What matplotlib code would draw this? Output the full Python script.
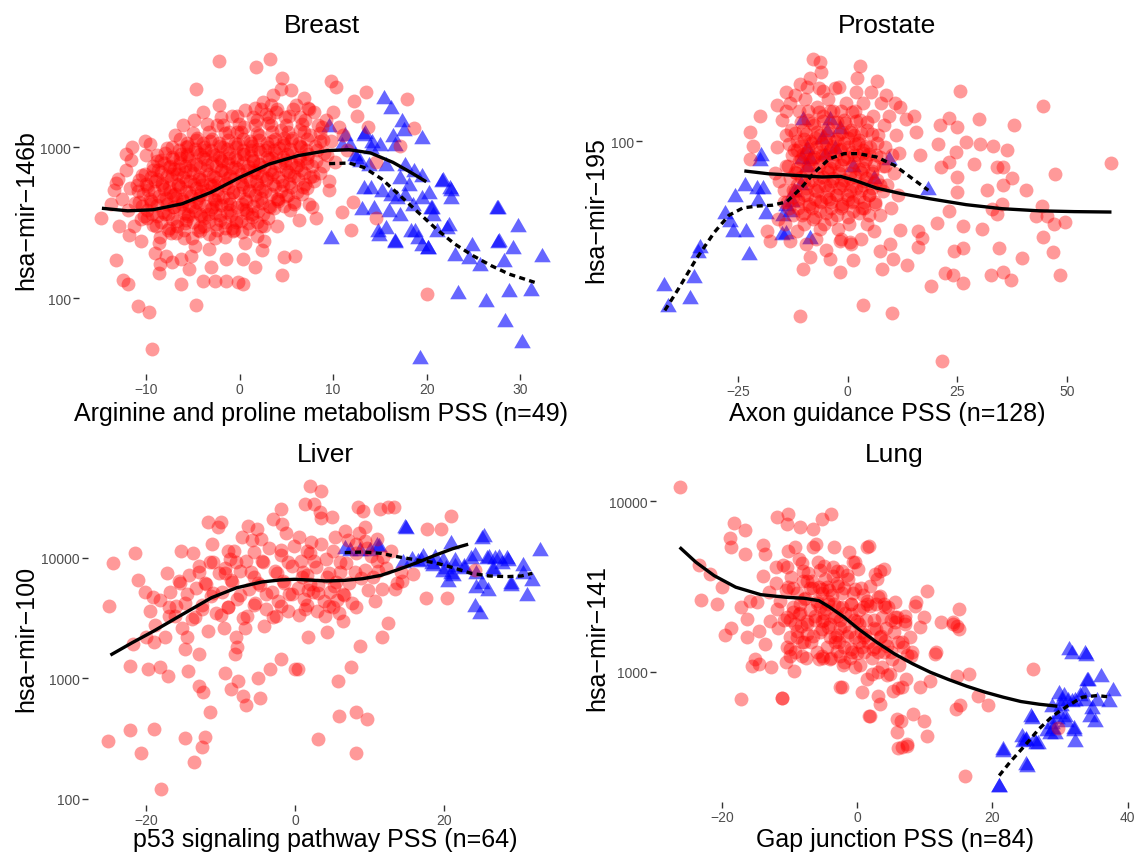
import matplotlib
matplotlib.use("Agg")
import matplotlib.pyplot as plt

plt.rcParams['font.family'] = ['Liberation Sans', 'DejaVu Sans']

W, H = 1135, 853

# ---------------- Breast ----------------
breast_red = [
    (-14.8, 339), (-13.2, 178), (-12.5, 132), (-12.0, 123), (-10.9, 88), (-9.7, 81), (-9.4, 46),
    (-4.7, 90), (-2.2, 3720), (1.7, 3400), (3.2, 3830), (-4.7, 2420), (4.5, 2860), (4.4, 2420),
    (9.8, 2750), (10.3, 2510), (13.5, 2300), (17.9, 2080), (12.2, 2030), (18.7, 1330), (13.7, 1350),
    (17.2, 1020), (14.6, 790), (12.1, 430), (10.9, 370), (11.9, 280), (14.6, 340), (20.0, 106),
    (8.2, 340), (7.4, 420), (5.9, 191), (4.7, 186), (4.5, 142), (2.4, 209), (1.6, 160), (0.4, 124),
    (-0.2, 127), (-1.5, 130), (-2.6, 130), (-3.9, 130), (-6.3, 124), (-8.6, 147), (-8.5, 168),
    (-7.2, 172), (-5.4, 155), (-10.1, 1100), (-12.2, 900), (-13.2, 575),
    (-13.5, 520), (-13.0, 610), (-12.6, 450), (-12.2, 700), (-12.0, 380), (-11.6, 820), (-11.3, 300),
    (-11.0, 560), (-10.8, 430), (-10.5, 650), (-10.2, 350), (-10.0, 880), (-13.8, 420), (-12.9, 300),
    (-11.8, 260), (-10.6, 240), (-11.5, 1000),
    (-9.8, 520), (-9.5, 420), (-9.3, 700), (-9.0, 300), (-8.8, 610), (-8.6, 230), (-8.4, 820),
    (-8.2, 450), (-8.0, 360), (-7.8, 990), (-7.6, 540), (-7.4, 270), (-7.2, 660), (-7.0, 400),
    (-9.6, 1050), (-9.1, 200), (-8.9, 880), (-8.3, 560), (-7.9, 190), (-7.5, 750), (-9.9, 340), (-7.1, 480),
    (-6.9, 1200), (-6.7, 300), (-6.6, 560), (-6.4, 850), (-6.2, 420), (-6.0, 250), (-5.9, 680),
    (-5.7, 1000), (-5.5, 360), (-5.4, 500), (-5.2, 190), (-5.0, 760), (-4.9, 1500), (-4.7, 430),
    (-4.5, 280), (-4.4, 610), (-4.2, 900), (-4.1, 350), (-6.5, 720), (-6.1, 1400), (-5.8, 330),
    (-5.3, 600), (-4.8, 220), (-4.3, 480), (-6.8, 460), (-5.6, 900), (-4.6, 1150), (-5.1, 400),
    (-6.3, 180), (-4.0, 560),
    (-3.9, 1700), (-3.8, 300), (-3.6, 520), (-3.5, 760), (-3.3, 210), (-3.2, 1100), (-3.0, 400),
    (-2.9, 640), (-2.7, 880), (-2.6, 250), (-2.4, 1400), (-2.3, 480), (-2.1, 330), (-2.0, 700),
    (-1.8, 1000), (-1.7, 560), (-1.5, 180), (-1.4, 420), (-1.2, 850), (-1.1, 1250), (-3.7, 950),
    (-3.4, 360), (-2.8, 560), (-2.2, 1900), (-1.6, 290), (-1.3, 620), (-3.1, 160), (-2.5, 420),
    (-1.9, 810), (-1.0, 380),
    (-0.8, 1600), (-0.7, 500), (-0.5, 740), (-0.4, 320), (-0.2, 1050), (0.0, 600), (0.2, 420),
    (0.3, 900), (0.5, 1350), (0.6, 230), (0.8, 700), (1.0, 520), (1.1, 1100), (1.3, 360), (1.4, 820),
    (1.6, 1800), (1.7, 600), (1.9, 440), (-0.6, 280), (0.4, 180), (1.2, 960), (1.8, 1500),
    (-0.3, 1250), (0.7, 380), (1.5, 680),
    (2.1, 1200), (2.2, 760), (2.4, 520), (2.5, 2000), (2.7, 950), (2.9, 620), (3.0, 1450), (3.2, 400),
    (3.4, 850), (3.5, 1100), (3.7, 680), (3.9, 1700), (4.0, 300), (4.2, 980), (4.4, 1300), (4.6, 560),
    (4.8, 780), (2.3, 300), (2.8, 1650), (3.6, 2200), (4.1, 450), (4.7, 1150), (2.6, 240), (3.3, 1900),
    (5.1, 900), (5.3, 1600), (5.4, 650), (5.6, 1150), (5.8, 420), (6.0, 1900), (6.2, 760), (6.4, 1300),
    (6.6, 1000), (6.8, 540), (7.0, 1500), (7.2, 850), (7.5, 1200), (7.8, 640), (8.0, 1700), (8.3, 950),
    (8.6, 1100), (8.9, 750), (5.5, 2400), (6.9, 2100), (7.7, 400), (8.8, 1350), (6.3, 330), (5.2, 480),
    (7.3, 1800),
    (9.2, 1500), (9.5, 600), (9.8, 1100), (10.2, 800), (10.6, 1350), (9.6, 520), (10.0, 1700),
    (11.0, 1200), (11.5, 950), (12.5, 1600), (9.3, 880),
]
# the saturated core of the breast cloud
breast_red_core = [
    (-8.5, 255), (-6.8, 270), (-5.1, 248), (-3.3, 265), (-1.6, 252), (0.2, 272), (1.9, 258),
    (-9.3, 305), (-7.6, 292), (-5.9, 312), (-4.2, 296), (-2.5, 308), (-0.8, 290), (0.9, 315), (2.6, 300),
    (-10.6, 335), (-8.9, 350), (-7.2, 332), (-5.5, 348), (-3.8, 338), (-2.1, 352), (-0.4, 330),
    (1.3, 345), (3.0, 340),
    (-9.9, 385), (-8.2, 372), (-6.5, 392), (-4.8, 376), (-3.1, 390), (-1.4, 370), (0.3, 388),
    (2.0, 378), (3.7, 395), (5.4, 380),
    (-11.2, 425), (-9.5, 440), (-7.8, 420), (-6.1, 436), (-4.4, 428), (-2.7, 444), (-1.0, 422),
    (0.7, 438), (2.4, 426), (4.1, 442), (5.8, 430),
    (-10.3, 488), (-8.6, 472), (-6.9, 492), (-5.2, 476), (-3.5, 486), (-1.8, 470), (-0.1, 494),
    (1.6, 480), (3.3, 490), (5.0, 474), (6.7, 486),
    (-11.7, 535), (-9.9, 548), (-8.1, 530), (-6.4, 546), (-4.7, 538), (-3.0, 552), (-1.3, 532),
    (0.4, 545), (2.1, 536), (3.8, 550), (5.5, 540), (7.2, 534),
    (-10.8, 605), (-9.1, 592), (-7.4, 612), (-5.7, 596), (-4.0, 608), (-2.3, 590), (-0.6, 614),
    (1.1, 598), (2.8, 606), (4.5, 594), (6.2, 610), (7.9, 600),
    (-10.1, 662), (-8.4, 678), (-6.7, 660), (-5.0, 676), (-3.3, 666), (-1.6, 680), (0.1, 664),
    (1.8, 674), (3.5, 660), (5.2, 678), (6.9, 668), (8.6, 672),
    (-9.3, 748), (-7.6, 732), (-5.9, 750), (-4.2, 736), (-2.5, 746), (-0.8, 730), (0.9, 752),
    (2.6, 738), (4.3, 748), (6.0, 734), (7.7, 744),
    (-8.8, 812), (-7.1, 828), (-5.4, 815), (-3.7, 830), (-2.0, 818), (-0.3, 826), (1.4, 810),
    (3.1, 832), (4.8, 816), (6.5, 824), (8.2, 812),
    (-8.0, 915), (-6.3, 900), (-4.6, 920), (-2.9, 905), (-1.2, 918), (0.5, 902), (2.2, 922),
    (3.9, 908), (5.6, 916), (7.3, 900), (9.0, 912),
    (-7.2, 1000), (-5.5, 1020), (-3.8, 1005), (-2.1, 1022), (-0.4, 998), (1.3, 1015), (3.0, 1002),
    (4.7, 1024), (6.4, 1008), (8.1, 1018),
    (-6.4, 1130), (-4.7, 1110), (-3.0, 1128), (-1.3, 1115), (0.4, 1132), (2.1, 1108), (3.8, 1125),
    (5.5, 1112), (7.2, 1130), (8.9, 1118),
    (-5.0, 1240), (-3.3, 1262), (-1.6, 1245), (0.1, 1258), (1.8, 1238), (3.5, 1260), (5.2, 1248),
    (6.9, 1255), (8.6, 1240),
    (-3.5, 1410), (-1.8, 1390), (-0.1, 1415), (1.6, 1395), (3.3, 1408), (5.0, 1392), (6.7, 1412),
    (8.4, 1398),
    (-2.0, 1570), (-0.3, 1595), (1.4, 1575), (3.1, 1590), (4.8, 1568), (6.5, 1588),
    (0.6, 1770), (2.3, 1795), (4.0, 1775), (5.7, 1790), (7.4, 1772),
    (-7.7, 280), (-6.0, 284), (-4.2, 278), (-2.4, 282), (-0.7, 279), (1.0, 285),
    (-8.4, 320), (-6.7, 324), (-5.0, 318), (-3.3, 322), (-1.6, 317), (0.1, 325), (1.8, 320),
    (-9.4, 362), (-7.7, 358), (-6.0, 366), (-4.3, 360), (-2.6, 364), (-0.9, 357), (0.8, 365), (2.5, 360),
    (-10.5, 405), (-8.8, 410), (-7.1, 402), (-5.4, 408), (-3.7, 404), (-2.0, 411), (-0.3, 403),
    (1.4, 409), (3.1, 405), (4.7, 407),
    (-9.6, 455), (-7.9, 460), (-6.2, 452), (-4.5, 458), (-2.8, 454), (-1.1, 461), (0.6, 453),
    (2.3, 459), (4.0, 456),
    (-10.9, 510), (-9.2, 515), (-7.5, 506), (-5.8, 512), (-4.1, 508), (-2.4, 516), (-0.7, 505),
    (1.0, 513), (2.7, 509), (4.4, 514), (6.1, 507),
    (-10.0, 570), (-8.3, 575), (-6.6, 566), (-4.9, 572), (-3.2, 568), (-1.5, 576), (0.2, 565),
    (1.9, 573), (3.6, 569), (5.3, 574), (7.0, 567),
    (-9.5, 635), (-7.8, 640), (-6.1, 631), (-4.4, 637), (-2.7, 633), (-1.0, 641), (0.7, 630),
    (2.4, 638), (4.1, 634), (5.8, 639), (7.5, 632),
    (-8.7, 705), (-7.0, 710), (-5.3, 701), (-3.6, 707), (-1.9, 703), (-0.2, 711), (1.5, 700),
    (3.2, 708), (4.9, 704), (6.6, 709),
    (-8.1, 780), (-6.4, 786), (-4.7, 776), (-3.0, 783), (-1.3, 778), (0.4, 787), (2.1, 775),
    (3.8, 784), (5.5, 779), (7.2, 785),
    (-7.3, 860), (-5.6, 866), (-3.9, 856), (-2.2, 863), (-0.5, 858), (1.2, 867), (2.9, 855),
    (4.6, 864), (6.3, 859),
    (-6.5, 960), (-4.8, 966), (-3.1, 955), (-1.4, 963), (0.3, 958), (2.0, 967), (3.7, 956),
    (5.4, 964), (7.1, 959),
    (-5.6, 1060), (-3.9, 1068), (-2.2, 1056), (-0.5, 1065), (1.2, 1059), (2.9, 1069), (4.6, 1057),
    (6.3, 1066),
]
breast_blue = [
    (15.4, 2080), (16.2, 1790), (17.4, 1460), (17.6, 1280), (19.5, 1130), (9.6, 1350), (11.3, 1190),
    (13.3, 1190), (14.2, 1070), (15.0, 1020), (16.4, 1160), (10.9, 1020), (12.3, 876), (12.9, 790),
    (13.8, 752), (15.6, 752), (17.7, 752), (18.7, 680), (19.5, 630), (21.8, 600), (22.6, 513),
    (22.6, 453), (13.3, 527), (14.0, 527), (15.2, 500), (16.2, 476), (16.8, 453), (14.4, 390),
    (13.1, 380), (16.0, 369), (17.2, 351), (18.5, 409), (19.5, 453), (20.5, 390), (20.7, 351),
    (22.2, 287), (21.1, 272), (14.8, 272), (15.6, 287), (16.6, 233), (18.3, 272), (19.1, 246),
    (20.1, 211), (19.5, 222), (9.8, 246), (23.0, 191), (24.9, 222), (25.7, 164), (27.6, 390),
    (27.6, 233), (29.2, 211), (29.8, 294), (28.3, 172), (23.4, 106), (26.3, 94), (28.8, 109),
    (31.2, 112), (28.4, 69), (30.2, 50), (19.3, 39.5), (32.3, 186), (24.5, 180), (17.2, 613),
    (18.1, 555), (11.8, 1020), (16.6, 1020), (20.3, 488), (13.4, 1220), (12.4, 830), (14.1, 970),
    (21.6, 583), (22.5, 527), (17.7, 476), (20.6, 388), (14.9, 259), (16.6, 234), (18.8, 272),
    (20.2, 211), (22.4, 301), (27.7, 234), (27.5, 388),
]
breast_fit_x = [-14.75, -12.0, -9.3, -6.2, -3.07, 0.04, 3.15, 6.26, 9.38, 11.7, 14.0, 16.4, 18.3, 19.96]
breast_fit_y = [393, 378, 384, 420, 501, 630, 771, 877, 946, 960, 913, 791, 679, 589]
breast_nfit_x = [9.57, 11.71, 13.27, 15.21, 17.16, 19.1, 21.05, 23.0, 24.94, 26.89, 28.83, 31.56]
breast_nfit_y = [776, 783, 733, 613, 476, 369, 286, 228, 191, 164, 144, 127]

# ---------------- Prostate ----------------
prostate_red = [
    (-16, 95), (-15.5, 70), (-15, 120), (-14.5, 58), (-14, 105), (-13.5, 80), (-13, 140), (-12.5, 65),
    (-12.2, 92), (-15.8, 50), (-14.2, 48), (-12.8, 110), (-13.3, 55), (-16.5, 75), (-12, 150),
    (-11.8, 75), (-11.5, 100), (-11.2, 60), (-11, 130), (-10.7, 85), (-10.4, 52), (-10.2, 110),
    (-10, 70), (-9.7, 145), (-9.5, 90), (-9.2, 62), (-9, 120), (-8.8, 78), (-8.5, 100), (-8.2, 55),
    (-11.6, 45), (-9.9, 48), (-8.6, 175), (-10.9, 165), (-9.4, 40),
    (-7.9, 85), (-7.6, 115), (-7.4, 65), (-7.1, 95), (-6.9, 135), (-6.6, 72), (-6.3, 105), (-6, 58),
    (-5.8, 88), (-5.5, 125), (-5.2, 68), (-5, 98), (-4.7, 78), (-4.4, 112), (-4.2, 60), (-7.8, 50),
    (-6.5, 160), (-5.3, 48), (-4.5, 145), (-7.2, 42), (-6.1, 185), (-4.9, 38),
    (-3.9, 90), (-3.6, 70), (-3.4, 130), (-3.1, 82), (-2.8, 100), (-2.6, 62), (-2.3, 118), (-2, 75),
    (-1.8, 92), (-1.5, 55), (-1.2, 108), (-1, 68), (-0.7, 85), (-0.4, 140), (-0.2, 62), (-3.7, 50),
    (-2.9, 160), (-1.6, 42), (-0.8, 120), (-2.2, 46),
    (0.2, 95), (0.5, 72), (0.8, 110), (1.1, 58), (1.4, 88), (1.7, 130), (2, 66), (2.3, 98), (2.6, 78),
    (2.9, 120), (3.2, 55), (3.5, 90), (3.8, 70), (0.4, 48), (1.9, 155), (3.1, 42), (2.2, 175),
    (0.9, 40), (3.6, 140), (1.5, 105),
    (4.2, 85), (4.5, 110), (4.8, 62), (5.1, 95), (5.5, 75), (5.8, 125), (6.2, 58), (6.5, 88),
    (6.9, 105), (7.3, 68), (7.7, 140), (8, 80), (4.4, 48), (6.0, 45), (7.5, 52), (5.3, 155),
    (6.8, 170), (8.3, 115),
    (8.6, 95), (9, 68), (9.4, 125), (9.8, 55), (10.2, 88), (10.6, 75), (11, 105), (11.5, 62),
    (9.6, 40), (10.8, 140), (8.8, 150), (11.8, 90),
    (-7.8, 207), (-6.3, 202), (2.8, 195), (-13.9, 154), (-9.3, 161), (-5.5, 156), (-1.9, 161),
    (-20.0, 125), (-16.1, 137), (-13.9, 131), (-22.2, 108), (-21.5, 96), (-22.2, 85), (-10.8, 21.3),
    (-10.1, 32.2), (-8.5, 35.7), (-4.0, 35.2), (-1.7, 31.3), (1.3, 34.7), (-18.4, 45.2),
    (-17.7, 41.4), (-13.1, 41.4), (-6.3, 45.9), (-1.7, 41.4), (0.6, 40.7),
    (25.6, 156), (44.5, 136), (37.8, 115), (30.0, 122), (23.2, 123), (21.1, 115), (24.9, 113),
    (15.6, 108), (15.2, 125), (13.3, 122), (12.0, 135), (27.0, 99.5), (30.2, 97.5), (33.1, 96),
    (36.3, 92.4), (20.5, 97.5), (24.7, 91), (16.5, 88.3), (28.9, 81.6), (34.0, 79.2), (35.5, 79.2),
    (37.4, 71.9), (40.7, 65), (31.7, 65), (35.5, 67.8), (24.9, 63.5), (21.3, 79.2), (23.0, 82.8),
    (25.0, 73), (47.3, 74.7), (35.1, 57.3), (32.8, 54.8), (34.0, 52.4), (42.9, 51.6), (45.4, 51.6),
    (46.9, 48), (49.5, 48.7), (23.0, 54), (20.3, 48.4), (26.2, 47.2), (30.6, 45.9), (44.6, 42.6),
    (16.1, 45.2), (16.9, 42.2), (12.0, 45.6), (16.1, 39), (24.3, 37.9), (26.2, 38.7), (34.6, 38.7),
    (39.7, 35.4), (46.7, 37.3), (7.4, 37.9), (10.4, 35.2), (13.5, 33.3), (7.8, 32.2), (22.1, 31.1),
    (24.0, 30.5), (26.2, 28.4), (32.7, 30.5), (35.3, 31.3), (37.2, 29.3), (48.3, 30.5), (19.0, 27.6),
    (3.6, 23.3), (10.1, 21.8), (21.5, 14.3), (60.1, 82), (44.2, 56.4),
]
prostate_red_core = [
    (-12.5, 52), (-10, 53), (-7.5, 51), (-5, 53), (-2.5, 52), (0, 51), (2.5, 53), (5, 52),
    (-13.7, 58), (-11.2, 59), (-8.7, 57), (-6.2, 59), (-3.7, 58), (-1.2, 57), (1.3, 59), (3.8, 58),
    (6.3, 57),
    (-14.5, 65), (-12, 64), (-9.5, 66), (-7, 64), (-4.5, 65), (-2, 66), (0.5, 64), (3, 65), (5.5, 66),
    (8, 64),
    (-13.2, 72), (-10.7, 73), (-8.2, 71), (-5.7, 73), (-3.2, 72), (-0.7, 71), (1.8, 73), (4.3, 72),
    (6.8, 71),
    (-14, 80), (-11.5, 79), (-9, 81), (-6.5, 80), (-4, 79), (-1.5, 81), (1, 80), (3.5, 79), (6, 81),
    (8.5, 80),
    (-12.7, 88), (-10.2, 89), (-7.7, 87), (-5.2, 88), (-2.7, 89), (-0.2, 87), (2.3, 88), (4.8, 89),
    (7.3, 87),
    (-13.3, 97), (-10.8, 96), (-8.3, 98), (-5.8, 97), (-3.3, 96), (-0.8, 98), (1.7, 97), (4.2, 96),
    (6.7, 98),
    (-12, 107), (-9.5, 106), (-7, 108), (-4.5, 107), (-2, 106), (0.5, 108), (3, 107), (5.5, 106),
    (-10.5, 118), (-8, 117), (-5.5, 119), (-3, 118), (-0.5, 117), (2, 119), (4.5, 118),
    (-9, 130), (-6.5, 129), (-4, 131), (-1.5, 130), (1, 129),
    (-11.2, 55), (-8.7, 56), (-6.2, 54), (-3.7, 55), (-1.2, 56), (1.3, 54), (3.8, 55),
    (-12.5, 61), (-10, 62), (-7.5, 60), (-5, 61), (-2.5, 62), (0, 60), (2.5, 61), (5, 62),
    (-11.5, 68), (-9, 69), (-6.5, 67), (-4, 68), (-1.5, 69), (1, 67), (3.5, 68), (6, 69),
    (-12, 76), (-9.5, 77), (-7, 75), (-4.5, 76), (-2, 77), (0.5, 75), (3, 76), (5.5, 77),
    (-11, 84), (-8.5, 85), (-6, 83), (-3.5, 84), (-1, 85), (1.5, 83), (4, 84),
    (-11.5, 92), (-9, 93), (-6.5, 91), (-4, 92), (-1.5, 93), (1, 91), (3.5, 92),
    (-10, 102), (-7.5, 103), (-5, 101), (-2.5, 102), (0, 103), (2.5, 101),
]
prostate_blue = [
    (-41.9, 27.8), (-40.8, 22.9), (-35.9, 24.7), (-35.0, 29.6), (-33.6, 38.6), (-34.0, 37.1),
    (-22.4, 36.5), (-23.1, 44.8), (-26.0, 44.8), (-26.8, 48.6), (-27.9, 52.4), (-25.6, 60.7),
    (-23.4, 66.9), (-20.7, 65.4), (-19.2, 65.4), (-20.5, 59), (-18.6, 52.4), (-19.9, 84),
    (-19.8, 87.9), (-15.0, 43.3), (-13.9, 43.9), (-14.6, 51.6), (-13.9, 56.4), (-10.1, 120),
    (-9.3, 93.1), (-8.5, 85.3), (-9.3, 79.2), (-8.5, 42), (-4.0, 120), (-4.75, 108), (-5.9, 102),
    (-1.7, 111), (1.33, 79.2), (-2.85, 93.1), (-5.1, 88), (-10.4, 85.3), (-12.7, 58),
    (6.1, 71.6), (9.4, 84.4), (18.4, 64.6), (-10.7, 67.5), (-12.3, 63.7), (-13.1, 53.3),
]
prostate_fit_x = [-23.5, -18.0, -12.3, -5.7, -1.6, 1.6, 6.6, 12.3, 18.9, 27.0, 35.2, 43.4, 51.6, 60.1]
prostate_fit_y = [76.7, 74.8, 73.8, 72.7, 73.1, 70.6, 65.9, 62.7, 59.9, 56.9, 54.9, 53.9, 53.5, 53.3]
prostate_nfit_x = [-41.6, -38.5, -34.4, -30.3, -27.0, -23.8, -20.5, -17.2, -13.9, -10.7, -7.4, -4.1,
                   -0.8, 2.5, 6.6, 10.7, 14.8, 18.4]
prostate_nfit_y = [22.3, 27.0, 35.3, 44.6, 51.8, 55.3, 56.2, 56.6, 58.3, 65.6, 76.1, 85.5, 89.4,
                   89.4, 86.8, 80.6, 71.6, 64.6]

# ---------------- Liver ----------------
liver_red = [
    (-24.5, 9020), (-21.6, 11000), (-25.0, 4020), (-21.1, 6560), (-17.3, 7460), (-15.3, 11500),
    (-11.8, 19800), (-10.0, 19800), (-10.4, 17900), (-6.3, 18500), (-5.2, 17400), (-1.9, 25500),
    (-20.2, 5190), (-19.1, 4710), (-21.8, 1930), (-20.0, 2200), (-22.2, 1280), (-19.8, 1200),
    (-18.2, 1250), (-17.1, 1040), (-14.8, 1760), (-14.4, 1160), (-13.0, 871), (-12.4, 767),
    (-11.5, 523), (-9.5, 1120), (-8.6, 818), (-7.7, 959), (-7.0, 719), (-6.6, 607), (-5.0, 1010),
    (-4.8, 689), (-7.9, 1820), (-8.1, 1600), (-3.4, 1200), (-1.9, 1450), (-0.1, 1200),
    (-25.1, 305), (-22.2, 374), (-19.0, 381), (-20.8, 241), (-18.0, 121), (-14.8, 321), (-12.1, 329),
    (-12.5, 272), (-13.6, 201),
    (1.9, 39800), (3.5, 36200), (9.1, 24700), (11.3, 25500), (12.5, 26300), (13.3, 26300),
    (20.9, 22500), (17.7, 17400), (19.6, 17400), (9.4, 17900), (4.9, 22000), (3.5, 21300),
    (17.6, 4660), (20.3, 4660), (13.4, 5530), (14.3, 6480), (15.8, 7360), (12.4, 2870), (11.6, 2220),
    (8.7, 1870), (7.5, 1240), (5.7, 959), (8.2, 523), (5.9, 491), (9.6, 461), (3.0, 315), (8.1, 239),
    (0.3, 1200), (4.2, 2420), (1.7, 2200), (6.4, 3020), (8.2, 3890), (10.7, 4420), (11.1, 7850),
    (11.8, 10100), (10.2, 10400), (9.3, 13900), (10.9, 14400), (6.6, 16900), (5.3, 14800),
    (8.4, 26300), (8.2, 13100), (1.3, 27900), (24.1, 8000),
    (-19.5, 3600), (-18.8, 2800), (-18.2, 4500), (-17.5, 2200), (-16.8, 5200), (-16.2, 3300),
    (-15.6, 6500), (-15.2, 2600), (-19, 2000), (-17, 3900),
    (-14.8, 4200), (-14.3, 7200), (-13.9, 3100), (-13.4, 5600), (-13, 8600), (-12.6, 3800),
    (-12.2, 6200), (-11.8, 2500), (-11.4, 4800), (-11, 9200), (-10.6, 3500), (-10.2, 7500),
    (-14.6, 2200), (-12.9, 1600), (-11.2, 13000), (-13.7, 11000),
    (-9.8, 5200), (-9.4, 8200), (-9, 3900), (-8.6, 6600), (-8.2, 11500), (-7.8, 4600), (-7.4, 7800),
    (-7, 3200), (-6.6, 9500), (-6.2, 5500), (-5.8, 14000), (-5.4, 4200), (-9.6, 2600), (-8.0, 2200),
    (-6.8, 2600), (-5.6, 7000), (-7.2, 15000), (-8.8, 9800),
    (-4.8, 6000), (-4.4, 9200), (-4, 3800), (-3.6, 12000), (-3.2, 5200), (-2.8, 7800), (-2.4, 4400),
    (-2, 10500), (-1.6, 6400), (-1.2, 16000), (-0.8, 5000), (-0.4, 8600), (-4.2, 2700), (-2.6, 3300),
    (-1.0, 3600), (-0.2, 12500), (-3.0, 21000), (-1.8, 19000), (-4.6, 14500),
    (0.3, 5600), (0.7, 9500), (1.1, 4600), (1.5, 7200), (1.9, 11000), (2.3, 5200), (2.7, 8400),
    (3.1, 6000), (3.5, 13000), (3.9, 4400), (4.3, 7000), (4.7, 5200), (0.5, 15000), (1.3, 3800),
    (2.1, 13500), (2.9, 3600), (4.1, 9800), (0.9, 7000), (1.7, 5400), (3.3, 24000), (2.5, 28000),
    (4.5, 4000),
    (5.2, 5800), (5.6, 4500), (6, 7600), (6.4, 5000), (6.8, 9000), (7.2, 6200), (7.6, 4200),
    (8.2, 11000), (8.8, 6800), (9.4, 8000), (9.8, 5400), (5.8, 3500), (7.0, 14000), (8.6, 16000),
    (9.6, 12000),
    (10.4, 7000), (11, 9400), (11.6, 5500), (12.2, 8200), (12.8, 11500), (13.6, 6200), (14.2, 7700),
]
liver_red_core = [
    (-16, 4000), (-12.5, 4100), (-9, 3950), (-5.5, 4050), (-2, 4000), (1.5, 4100), (5, 3950),
    (-14.5, 5000), (-11, 5100), (-7.5, 4950), (-4, 5050), (-0.5, 5000), (3, 5100), (6.5, 4950),
    (-15.5, 6200), (-12, 6100), (-8.5, 6300), (-5, 6150), (-1.5, 6250), (2, 6100), (5.5, 6300),
    (-13, 7600), (-9.5, 7500), (-6, 7700), (-2.5, 7550), (1, 7650), (4.5, 7500), (8, 7700),
    (-11.5, 9300), (-8, 9200), (-4.5, 9400), (-1, 9250), (2.5, 9350), (6, 9200),
    (-9, 11500), (-5.5, 11300), (-2, 11600), (1.5, 11400), (5, 11500),
    (-17, 3300), (-13.5, 3250), (-10, 3350), (-6.5, 3300), (-3, 3250), (0.5, 3350), (4, 3300),
]
liver_blue = [
    (14.7, 17700), (25.3, 14800), (6.6, 11900), (7.3, 11400), (11.2, 12400), (8.7, 11500),
    (17.2, 10100), (18.7, 10000), (19.8, 9380), (21.4, 9380), (22.7, 8470), (24.1, 10400),
    (25.7, 9820), (26.8, 9820), (27.4, 10000), (28.6, 9380), (19.8, 7600), (20.9, 7360),
    (20.5, 6280), (24.3, 7360), (25.0, 6080), (25.9, 5360), (29.0, 6080), (24.1, 3890),
    (24.8, 3430), (26.6, 7850), (21.4, 8360), (15.6, 9550), (16.5, 9200), (18.3, 8900),
    (14.9, 17300), (25.0, 14300), (20.9, 13000), (32.9, 11400), (23.6, 9740), (26.0, 10000),
    (28.4, 9740), (30.6, 8580), (30.6, 7320), (31.8, 6440), (28.9, 5850), (31.1, 4830),
    (24.3, 5680), (21.2, 7080), (18.5, 8580), (20.2, 8050), (22.6, 8050), (10.0, 11400),
    (11.0, 12600), (14.4, 9140), (16.8, 9440), (26.5, 8050), (27.7, 8860),
]
liver_fit_x = [-24.84, -21.94, -19.03, -15.16, -11.28, -7.89, -4.5, -2.08, -0.15, 1.79, 4.21,
               6.63, 9.06, 11.48, 13.9, 16.32, 18.74, 21.16, 23.2]
liver_fit_y = [1563, 1977, 2473, 3404, 4675, 5660, 6320, 6565, 6650, 6565, 6440, 6520, 6730,
               7170, 8050, 9140, 10520, 11960, 13000]
liver_nfit_x = [6.63, 9.06, 11.48, 13.9, 16.32, 18.74, 21.16, 23.58, 26.0, 28.43, 30.36, 31.82]
liver_nfit_y = [11070, 11210, 10930, 10190, 9620, 9140, 8310, 7460, 7090, 7000, 7090, 7460]

# ---------------- Lung ----------------
lung_red = [
    (-26.3, 12200), (-18.2, 7410), (-16.7, 6770), (-18.8, 6080), (-18.7, 5360), (-23.5, 4230),
    (-21.8, 3740), (-20.1, 3130), (-23.1, 2630), (-20.8, 2490), (-19.6, 1650), (-18.7, 1800),
    (-16.4, 1600), (-17.2, 2400), (-16.3, 2040), (-15.6, 1080), (-14.5, 1110), (-12.8, 1060),
    (-17.2, 690), (-11.2, 700), (-11.9, 8130), (-10.3, 8420), (-8.5, 7030), (-6.6, 6870),
    (-5.3, 7870), (-3.9, 8420), (-10.4, 7350), (-9.3, 5410), (-6.5, 5410), (-3.5, 5410),
    (-1.3, 5010), (1.4, 5410), (-16.7, 4900), (-13.9, 5560), (-13.6, 4900), (-12.0, 4090),
    (-10.4, 4090), (-8.2, 4320), (-5.0, 4190), (-2.3, 3920), (-0.6, 4380), (-13.9, 3660),
    (-13.1, 2920), (-11.9, 2330), (-15.9, 2610), (-14.9, 2550), (-12.9, 1990), (-14.6, 1740),
    (-13.6, 1450), (-15.1, 1190), (-10.4, 1390), (-9.9, 1240), (-9.4, 1010), (-8.2, 1240),
    (-10.4, 2080), (-8.7, 2180), (-8.9, 1740), (-7.5, 1660), (-10.2, 3130), (-7.5, 3420),
    (-5.7, 3130), (-4.3, 2610), (-5.2, 1990), (-4.3, 1820), (-3.3, 1490), (-5.2, 1240),
    (-2.5, 1240), (-2.3, 809), (0.7, 755), (1.7, 551), (-0.3, 1060), (0.7, 1390), (-1.0, 2180),
    (0.2, 1900), (-2.3, 2380), (1.4, 2610), (-0.3, 3060), (0.9, 2380),
    (1.75, 5480), (3.4, 3910), (2.6, 3740), (10.3, 2990), (15.0, 2330), (12.4, 1950), (14.2, 1900),
    (15.1, 1780), (8.5, 2440), (9.8, 2080), (9.3, 1820), (7.1, 1990), (5.6, 2080), (3.1, 2730),
    (4.1, 2380), (11.5, 1270), (8.1, 1300), (6.8, 1390), (4.1, 1520), (2.6, 1390), (2.1, 968),
    (3.6, 1060), (4.9, 968), (10.8, 885), (9.3, 809), (6.6, 809), (5.3, 773), (14.7, 946),
    (16.5, 968), (17.9, 723), (19.3, 640), (14.6, 603), (15.2, 640), (3.4, 645), (1.9, 551),
    (8.3, 564), (9.9, 515), (6.5, 515), (5.8, 440), (10.3, 421), (6.6, 359), (7.3, 367),
    (26.0, 1035), (15.9, 242), (29.7, 467),
    (-11.2, 697), (7.4, 376), (6.0, 355), (-2.5, 809), (3.1, 723), (5.8, 527), (5.2, 1190),
    (7.9, 1240), (11.7, 1300), (14.8, 1860), (14.1, 1950), (3.9, 4010), (-0.4, 4390), (-1.4, 3500),
    (1.8, 2440), (3.4, 2790), (5.5, 2550), (7.1, 2130), (8.7, 2550), (5.5, 1950), (2.8, 1780),
    (0.2, 1490), (1.2, 1630), (-0.9, 1360), (2.3, 1360), (4.4, 1420), (6.0, 1490), (-2.0, 1140),
    (-4.1, 1190), (-5.7, 1190), (-3.0, 1630), (-5.2, 1780), (-6.3, 2130), (-4.7, 2330),
    (-3.0, 2130), (-2.0, 1860), (-7.9, 1490), (-8.4, 1860), (-9.5, 2230), (-10.0, 1360),
    (-10.5, 1140), (-7.9, 2670), (-5.2, 3060), (-3.6, 3660), (-2.8, 3200),
    (-12, 3300), (-11.5, 2600), (-11, 4200), (-10.8, 2000), (-10.5, 3000), (-10, 1600), (-9.8, 3600),
    (-9.5, 2400), (-9.2, 1900), (-9, 2900), (-8.7, 4600), (-8.5, 2200), (-8.2, 1500), (-8, 3400),
    (-11.7, 1800), (-10.3, 5100), (-9.3, 1300),
    (-7.8, 2700), (-7.5, 1900), (-7.3, 3800), (-7, 2300), (-6.8, 1500), (-6.5, 3100), (-6.3, 2000),
    (-6, 2600), (-5.8, 4400), (-5.5, 1700), (-5.3, 2900), (-5, 2200), (-4.8, 3500), (-4.5, 1400),
    (-4.3, 2500), (-4, 1900), (-7.6, 1200), (-6.1, 5600), (-5.1, 1200), (-4.2, 3000), (-6.7, 3400),
    (-5.6, 2400),
    (-3.8, 2800), (-3.5, 2100), (-3.3, 1600), (-3, 3300), (-2.8, 2400), (-2.5, 1800), (-2.3, 2900),
    (-2, 1400), (-1.8, 2200), (-1.5, 3700), (-1.3, 1700), (-1, 2500), (-0.8, 1300), (-0.5, 2000),
    (-0.3, 1600), (-3.6, 4100), (-2.1, 1100), (-0.6, 2900), (-1.1, 1200), (-2.7, 1500), (-3.9, 1200),
    (0.2, 2300), (0.5, 1700), (0.8, 2800), (1, 1300), (1.3, 2000), (1.6, 1500), (1.9, 3200),
    (2.2, 1200), (2.5, 1800), (2.8, 2500), (3.1, 1000), (3.4, 1600), (3.7, 2100), (0.4, 1100),
    (1.5, 900), (2.9, 3500), (3.9, 1300), (0.1, 4000),
    (4.2, 1800), (4.6, 2400), (5, 1300), (5.4, 1700), (5.8, 2100), (6.2, 1100), (6.6, 1500),
    (7, 1900), (7.4, 1250), (7.8, 1600), (4.4, 950), (6.0, 800), (7.2, 900),
]
lung_red_core = [
    (-6, 1300), (-3, 1320), (0, 1290), (3, 1310),
    (-9, 1600), (-6.5, 1620), (-4, 1590), (-1.5, 1610), (1, 1600), (3.5, 1620),
    (-10, 2000), (-7.5, 1980), (-5, 2020), (-2.5, 2000), (0, 1990), (2.5, 2010), (5, 2000),
    (-8.5, 2500), (-6, 2520), (-3.5, 2480), (-1, 2510), (1.5, 2490), (4, 2500),
    (-9.5, 3100), (-7, 3080), (-4.5, 3120), (-2, 3100), (0.5, 3090),
    (-8, 3900), (-5.5, 3950), (-3, 3880),
]
lung_blue = [
    (20.9, 209), (21.6, 344), (25.1, 274), (25.0, 393), (25.7, 538), (24.3, 411), (26.1, 393),
    (26.8, 376), (28.0, 450), (29.3, 431), (30.3, 675), (31.2, 675), (32.2, 675), (33.7, 675),
    (29.8, 564), (30.8, 538), (32.0, 450), (31.7, 1270), (33.7, 1270), (34.0, 885), (29.8, 738),
    (28.8, 617), (28.8, 492),
    (31.4, 1330), (33.9, 1240), (36.0, 927), (34.1, 885), (33.6, 757), (37.9, 773), (37.3, 661),
    (35.5, 676), (34.7, 604), (34.4, 540), (35.2, 505), (33.0, 723), (31.7, 661), (32.0, 460),
    (32.2, 385), (30.6, 723), (30.1, 631), (29.6, 527), (30.9, 505), (29.0, 460), (28.5, 431),
    (25.8, 527), (25.0, 394), (24.5, 385), (26.4, 376), (21.6, 336), (25.0, 281), (21.0, 209),
]
lung_fit_x = [-26.3, -23.9, -21.2, -18.0, -14.3, -10.5, -7.9, -5.7, -4.1, -1.98, 0.16, 2.83, 5.5,
              8.2, 10.8, 13.5, 16.2, 18.9, 21.6, 24.2, 26.9, 29.6]
lung_fit_y = [5370, 4390, 3660, 3130, 2830, 2730, 2695, 2610, 2390, 2090, 1780, 1490, 1270, 1110,
              991, 898, 820, 757, 707, 667, 643, 626]
lung_nfit_x = [21.0, 22.6, 24.8, 26.9, 29.0, 31.2, 33.3, 35.5, 37.6]
lung_nfit_y = [245, 294, 368, 461, 552, 631, 707, 723, 707]

titles = ["Breast", "Prostate", "Liver", "Lung"]
ylabels = ["hsa\u2212mir\u2212146b", "hsa\u2212mir\u2212195", "hsa\u2212mir\u2212100", "hsa\u2212mir\u2212141"]
xlabels = ["Arginine and proline metabolism PSS (n=49)", "Axon guidance PSS (n=128)",
           "p53 signaling pathway PSS (n=64)", "Gap junction PSS (n=84)"]
xticks = [[-10, 0, 10, 20, 30], [-25, 0, 25, 50], [-20, 0, 20], [-20, 0, 20, 40]]
yticks = [[100, 1000], [100], [100, 1000, 10000], [1000, 10000]]

panels = [
    (breast_red + breast_red_core, breast_blue, breast_fit_x, breast_fit_y, breast_nfit_x, breast_nfit_y),
    (prostate_red + prostate_red_core, prostate_blue, prostate_fit_x, prostate_fit_y,
     prostate_nfit_x, prostate_nfit_y),
    (liver_red + liver_red_core, liver_blue, liver_fit_x, liver_fit_y, liver_nfit_x, liver_nfit_y),
    (lung_red + lung_red_core, lung_blue, lung_fit_x, lung_fit_y, lung_nfit_x, lung_nfit_y),
]

# layout (pixels): left, right, top, bottom of each panel; axis limits
boxes = [(79, 564, 45, 375), (642, 1133, 44, 377), (88, 562, 471, 806), (656, 1133, 473, 803)]
xlims = [(-17.2, 34.7), (-46.8, 65.0), (-27.85, 35.8), (-29.8, 40.8)]
ylims = [(10**1.497, 10**3.682), (10**1.096, 10**2.377), (10**1.95, 10**4.73), (10**2.234, 10**4.172)]
ylab_x = [33.5, 603, 33.5, 604]
title_y = [33, 33, 462, 462]
xlab_y = [421, 421, 847, 847]

tri = [(0, 1), (-0.866, -0.5), (0.866, -0.5)]

fig = plt.figure(figsize=(W / 100, H / 100), dpi=100)
for i, (red, blue, fx, fy, nx, ny) in enumerate(panels):
    l, r, t, b = boxes[i]
    ax = fig.add_axes([l / W, 1 - b / H, (r - l) / W, (b - t) / H])
    ax.set_yscale('log')
    bx, by = zip(*blue)
    ax.scatter(bx, by, s=190, marker=tri, color='#0000FF', alpha=0.6, linewidths=0)
    rx, ry = zip(*red)
    ax.scatter(rx, ry, s=100, marker='o', color='#FF0000', alpha=0.4, linewidths=0)
    ax.plot(fx, fy, color='black', lw=2.4, solid_capstyle='butt')
    ax.plot(nx, ny, color='black', lw=2.4, ls=(0, (1.8, 1.3)), dash_capstyle='butt')
    ax.set_xlim(*xlims[i])
    ax.set_ylim(*ylims[i])
    ax.set_xticks(xticks[i])
    ax.set_xticklabels([str(v).replace('-', '\u2212') for v in xticks[i]])
    ax.set_yticks(yticks[i])
    ax.set_yticklabels([str(v) for v in yticks[i]])
    ax.minorticks_off()
    for s in ax.spines.values():
        s.set_visible(False)
    ax.tick_params(length=4, width=1, color='#333333', labelcolor='#4D4D4D', labelsize=10, pad=2)
    cx = (l + r) / 2 / W
    fig.text(cx, 1 - title_y[i] / H, titles[i], ha='center', va='baseline', fontsize=19)
    fig.text(cx, 1 - xlab_y[i] / H, xlabels[i], ha='center', va='baseline', fontsize=18)
    fig.text(ylab_x[i] / W, 1 - (t + b) / 2 / H, ylabels[i], ha='center', va='baseline',
             rotation=90, rotation_mode='anchor', fontsize=18)

fig.savefig('out.png', dpi=100)
